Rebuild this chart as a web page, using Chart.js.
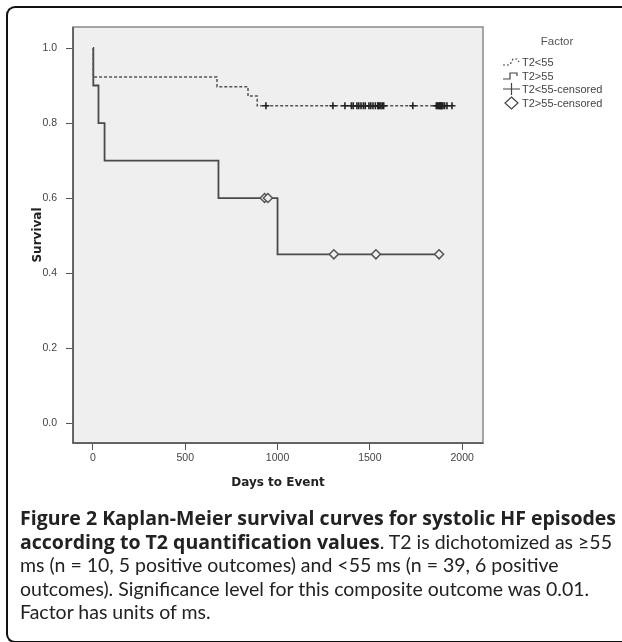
<!DOCTYPE html>
<html>
<head>
<meta charset="utf-8">
<script src="https://cdn.jsdelivr.net/npm/chart.js@4"></script>
<style>
  html, body { margin: 0; padding: 0; background: #fff; }
  body { width: 622px; height: 642px; position: relative; overflow: hidden; }
  #frame {
    position: absolute; left: 6px; top: 6px; width: 700px; height: 633px;
    border: 2px solid #111; border-right: none; border-radius: 9px 0 0 9px;
  }
  #km { position: absolute; left: 0; top: 0; }
  #caption {
    position: absolute; left: 20px; top: 506px; white-space: nowrap;
    font-family: Lato, sans-serif; font-size: 19.5px; line-height: 23.5px; color: #222;
  }
  #caption b { font-family: "Open Sans", sans-serif; font-weight: 700; }
</style>
</head>
<body>
<div id="frame"></div>
<canvas id="km" width="622" height="510"></canvas>
<div id="caption">
  <b>Figure 2 Kaplan-Meier survival curves for systolic HF episodes</b><br>
  <b>according to T2 quantification values</b>. T2 is dichotomized as ≥55<br>
  ms (n = 10, 5 positive outcomes) and &lt;55 ms (n = 39, 6 positive<br>
  outcomes). Significance level for this composite outcome was 0.01.<br>
  Factor has units of ms.
</div>
<script>
// axis ticks
const xTicks = [0, 500, 1000, 1500, 2000];
const yTicks = [0.0, 0.2, 0.4, 0.6, 0.8, 1.0];

// T2<55 group (n = 39), step points: day of event, survival after it
const lowDays = [0, 2, 672, 840, 890, 1945];
const lowSurv = [1.0, 0.923, 0.897, 0.872, 0.846, 0.846];
const lowCensored = [937, 1300, 1365, 1400, 1410, 1430, 1440, 1452, 1465, 1475,
  1495, 1505, 1517, 1530, 1544, 1545, 1552, 1560, 1568, 1575, 1733, 1860, 1866,
  1872, 1878, 1880, 1884, 1888, 1890, 1896, 1905, 1918, 1945];

// T2>55 group (n = 10)
const highDays = [0, 2, 30, 63, 680, 1000, 1875];
const highSurv = [1.0, 0.9, 0.8, 0.7, 0.6, 0.45, 0.45];
const highCensored = [930, 948, 1305, 1533, 1875];

const legendItems = ["T2<55", "T2>55", "T2<55-censored", "T2>55-censored"];

const PLOT_BG = "#efefef";
const LINE = "#4a4a4a";

// survival value of a step curve at day t
function survAt(days, surv, t) {
  let s = surv[0];
  for (let i = 0; i < days.length; i++) {
    if (days[i] <= t) s = surv[i];
  }
  return s;
}

const toPoints = (xs, ys) => xs.map((x, i) => ({ x, y: ys[i] }));

const plotBackground = {
  id: "plotBackground",
  beforeDraw(chart) {
    const { ctx, chartArea: a } = chart;
    ctx.save();
    ctx.fillStyle = PLOT_BG;
    ctx.fillRect(a.left, a.top, a.right - a.left, a.bottom - a.top);
    ctx.restore();
  },
  afterDraw(chart) {
    const { ctx, chartArea: a } = chart;
    ctx.save();
    ctx.strokeStyle = "#8a8a8a";
    ctx.lineWidth = 1.5;
    ctx.strokeRect(a.left, a.top, a.right - a.left, a.bottom - a.top);
    ctx.strokeStyle = "#555";
    ctx.beginPath();
    ctx.moveTo(a.left, a.top);
    ctx.lineTo(a.left, a.bottom);
    ctx.lineTo(a.right, a.bottom);
    ctx.stroke();
    ctx.restore();
  },
};

// SPSS style legend on the right
const factorLegend = {
  id: "factorLegend",
  afterDraw(chart) {
    const { ctx } = chart;
    ctx.save();
    ctx.fillStyle = "#555";
    ctx.font = "11.5px 'Liberation Sans', Arial, sans-serif";
    ctx.textAlign = "center";
    ctx.textBaseline = "middle";
    ctx.fillText("Factor", 557, 42);

    ctx.textAlign = "left";
    ctx.font = "11px 'Liberation Sans', Arial, sans-serif";
    const rows = [62, 76, 89, 103];
    ctx.strokeStyle = "#444";
    ctx.lineWidth = 1.2;

    // dashed step
    let y = rows[0];
    ctx.setLineDash([2, 2]);
    ctx.beginPath();
    ctx.moveTo(503, y + 3); ctx.lineTo(510, y + 3);
    ctx.lineTo(513, y - 3); ctx.lineTo(517, y - 3); ctx.lineTo(519, y);
    ctx.stroke();
    ctx.setLineDash([]);

    // solid step
    y = rows[1];
    ctx.beginPath();
    ctx.moveTo(503, y + 3); ctx.lineTo(510, y + 3);
    ctx.lineTo(510, y - 3); ctx.lineTo(517, y - 3); ctx.lineTo(517, y);
    ctx.stroke();

    // plus
    y = rows[2];
    ctx.beginPath();
    ctx.moveTo(503, y); ctx.lineTo(520, y);
    ctx.moveTo(511.5, y - 6); ctx.lineTo(511.5, y + 6);
    ctx.stroke();

    // diamond
    y = rows[3];
    ctx.beginPath();
    ctx.moveTo(511.5, y - 6); ctx.lineTo(518, y);
    ctx.lineTo(511.5, y + 6); ctx.lineTo(505, y);
    ctx.closePath();
    ctx.stroke();

    ctx.fillStyle = "#444";
    legendItems.forEach((t, i) => ctx.fillText(t, 522, rows[i] + 0.5));
    ctx.restore();
  },
};

const tickFont = { family: "'Liberation Sans', Arial, sans-serif", size: 10.5 };
const titleFont = { family: "'DejaVu Sans', 'Liberation Sans', sans-serif", size: 12, weight: "bold" };

new Chart(document.getElementById("km").getContext("2d"), {
  type: "line",
  data: {
    datasets: [
      {
        label: "T2<55-censored",
        data: lowCensored.map((d) => ({ x: d, y: survAt(lowDays, lowSurv, d) })),
        showLine: false,
        pointStyle: "cross",
        pointRadius: 3.5,
        borderColor: "#222",
        borderWidth: 1.6,
        order: 0,
      },
      {
        label: "T2>55-censored",
        data: highCensored.map((d) => ({ x: d, y: survAt(highDays, highSurv, d) })),
        showLine: false,
        pointStyle: "rectRot",
        pointRadius: 4.5,
        backgroundColor: PLOT_BG,
        borderColor: "#555",
        borderWidth: 1.5,
        order: 0,
      },
      {
        label: "T2<55",
        data: toPoints(lowDays, lowSurv),
        stepped: "before",
        borderColor: "#555",
        borderWidth: 1.5,
        borderDash: [3, 2],
        pointRadius: 0,
        order: 1,
      },
      {
        label: "T2>55",
        data: toPoints(highDays, highSurv),
        stepped: "before",
        borderColor: LINE,
        borderWidth: 1.8,
        pointRadius: 0,
        order: 1,
      },
    ],
  },
  options: {
    responsive: false,
    animation: false,
    devicePixelRatio: 1,
    layout: { padding: { left: 0, right: 139, top: 27, bottom: 10 } },
    plugins: {
      legend: { display: false },
      tooltip: { enabled: false },
    },
    scales: {
      x: {
        type: "linear",
        min: -108,
        max: 2113,
        afterBuildTicks: (scale) => {
          scale.ticks = xTicks.map((v) => ({ value: v }));
        },
        afterFit: (scale) => {
          scale.height = 57;
        },
        ticks: { font: tickFont, color: "#444", padding: 2, maxRotation: 0, callback: (v) => String(v) },
        grid: { drawOnChartArea: false, drawTicks: true, tickLength: 7, color: "#555" },
        border: { display: true, color: "#555" },
        title: { display: true, text: "Days to Event", font: titleFont, color: "#222", padding: { top: 0, bottom: 10 } },
      },
      y: {
        type: "linear",
        min: -0.053,
        max: 1.056,
        afterBuildTicks: (scale) => {
          scale.ticks = yTicks.map((v) => ({ value: v }));
        },
        afterFit: (scale) => {
          scale.width = 73;
        },
        ticks: { font: tickFont, color: "#444", padding: 9, callback: (v) => v.toFixed(1) },
        grid: { drawOnChartArea: false, drawTicks: true, tickLength: 7, color: "#555" },
        border: { display: true, color: "#555" },
        title: { display: true, text: "Survival", font: titleFont, color: "#222", padding: { top: 31, bottom: 0 } },
      },
    },
  },
  plugins: [plotBackground, factorLegend],
});
</script>
</body>
</html>
